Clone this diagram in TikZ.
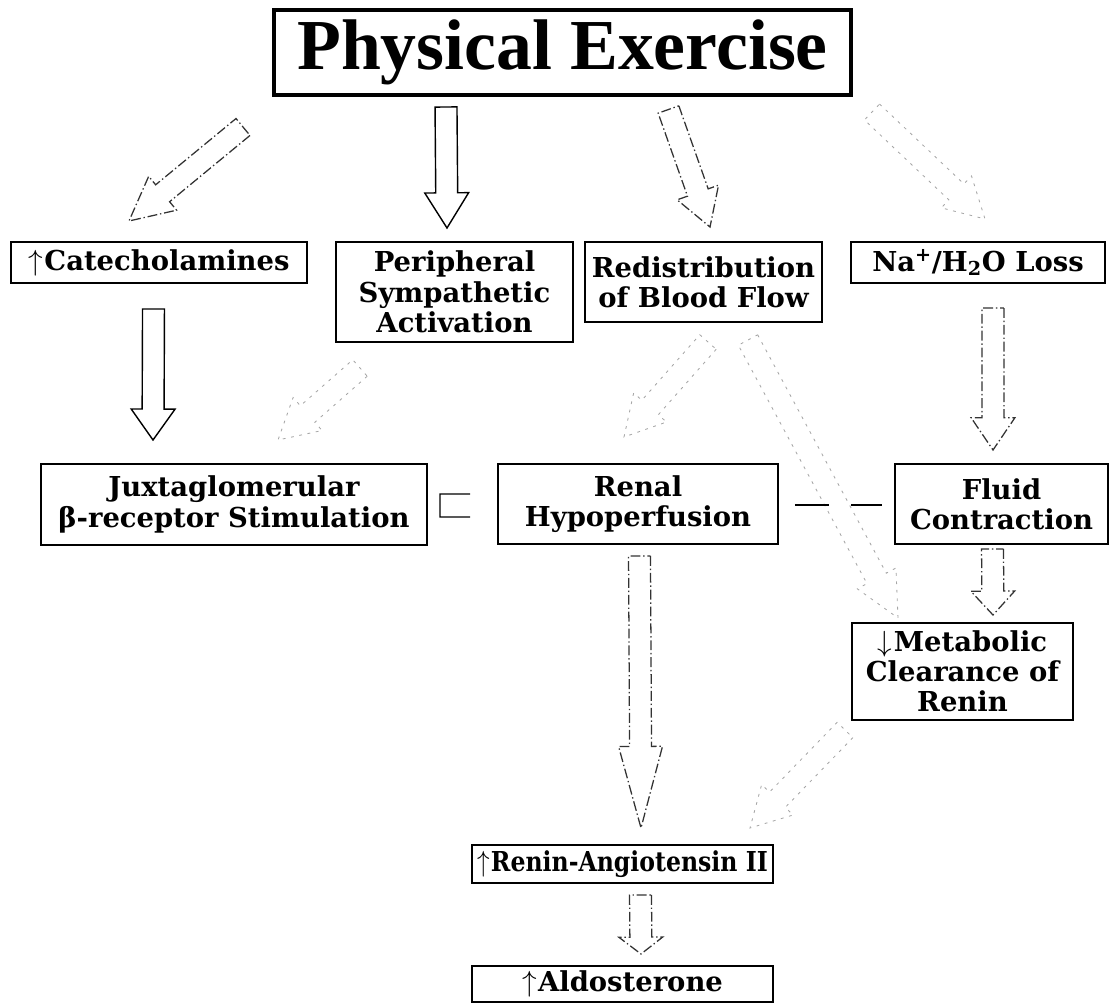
\documentclass[tikz,border=0pt]{standalone}
\usepackage{fontspec}
\setmainfont{DejaVu Serif}
\newfontfamily\titlefont{Liberation Serif}
\usetikzlibrary{calc}

\newcommand{\shafthw}{7.8pt}
\newcommand{\headhw}{15.6pt}
\newcommand{\incr}{$\mathord{\uparrow}$\kern1pt}
\newcommand{\decr}{$\mathord{\downarrow}$\kern1pt}
\newcommand{\blockarrow}[4][]{%
  \coordinate (neck) at ($(#3)!#4!(#2)$);
  \draw[#1] ($(#2)!\shafthw!90:(#3)$) -- ($(neck)!\shafthw!90:(#3)$)
    -- ($(neck)!\headhw!90:(#3)$) -- (#3)
    -- ($(neck)!\headhw!-90:(#3)$) -- ($(neck)!\shafthw!-90:(#3)$)
    -- ($(#2)!\shafthw!-90:(#3)$) -- cycle;}

\begin{document}
\begin{tikzpicture}[
    x=0.025cm, y=-0.025cm,
    stage/.style={draw=black, line width=1.3pt, inner sep=0pt, align=center,
      font=\bfseries\fontsize{19.5}{21.5}\selectfont},
    strong/.style={draw=black, line width=1pt},
    broken/.style={draw=black!80, line width=0.9pt, dash pattern=on 7pt off 2pt on 1pt off 2pt},
    faint/.style={draw=black!35, line width=0.6pt, dash pattern=on 2pt off 4pt}
]
    \useasboundingbox (0,0) rectangle (1117,1004);

    \node[stage, line width=3pt, minimum width=14.425cm, minimum height=2.125cm,
      font=\titlefont\bfseries\fontsize{51}{56}\selectfont] (phys) at (562.5,52.5) {Physical Exercise};

    \node[stage, minimum width=7.4cm, minimum height=1.025cm] (cat) at (159,262.5) {\incr Catecholamines};
    \node[stage, minimum width=5.925cm, minimum height=2.5cm] (per) at (454.5,292) {Peripheral\\Sympathetic\\Activation};
    \node[stage, minimum width=5.925cm, minimum height=2.0cm] (red) at (703.5,282) {Redistribution\\of Blood Flow};
    \node[stage, minimum width=6.35cm, minimum height=1.025cm] (na) at (978,262.5) {Na\textsuperscript{+}/H\textsubscript{2}O Loss};

    \node[stage, minimum width=9.65cm, minimum height=2.025cm] (jux) at (234,504.5) {Juxtaglomerular\\β-receptor Stimulation};
    \node[stage, minimum width=7.0cm, minimum height=2.0cm] (ren) at (638,504) {Renal\\Hypoperfusion};
    \node[stage, minimum width=5.325cm, minimum height=2.0cm] (flu) at (1001.5,504) {Fluid\\Contraction};
    \node[stage, minimum width=5.525cm, minimum height=2.425cm] (met) at (962.5,671.5) {\decr Metabolic\\Clearance of\\Renin};

    \node[stage, minimum width=7.525cm, minimum height=0.95cm] (ang) at (622.5,864) {\scalebox{0.86}[1]{\incr Renin-Angiotensin II}};
    \node[stage, minimum width=7.525cm, minimum height=0.9cm] (ald) at (622.5,984) {\incr Aldosterone};

    \coordinate (phys-cat) at (243,127);    \coordinate (cat-in) at (129,221);
    \coordinate (phys-per) at (446,107);    \coordinate (per-in) at (447,228);
    \coordinate (phys-red) at (668.5,109.5);\coordinate (red-in) at (710,227);
    \coordinate (phys-na) at (872,112);     \coordinate (na-in) at (985,219);
    \coordinate (cat-out) at (153.5,309);   \coordinate (jux-in1) at (153,440);
    \coordinate (per-out) at (360,368);     \coordinate (jux-in2) at (278,440);
    \coordinate (red-out1) at (708,342);    \coordinate (ren-in) at (624,437);
    \coordinate (red-out2) at (748,340);    \coordinate (met-in1) at (898,618);
    \coordinate (na-out) at (993,308);      \coordinate (flu-in) at (993,450);
    \coordinate (flu-out) at (992.5,549);   \coordinate (met-in2) at (993,615);
    \coordinate (ren-out) at (639.5,556);   \coordinate (ang-in1) at (641,828);
    \coordinate (met-out) at (845,730);     \coordinate (ang-in2) at (750,828);
    \coordinate (ang-out) at (640.5,895);   \coordinate (ald-in) at (641,954);

    \blockarrow[broken]{phys-cat}{cat-in}{31pt}
    \blockarrow[strong]{phys-per}{per-in}{25pt}
    \blockarrow[broken]{phys-red}{red-in}{26pt}
    \blockarrow[faint]{phys-na}{na-in}{28pt}
    \blockarrow[strong]{cat-out}{jux-in1}{22pt}
    \blockarrow[faint]{per-out}{jux-in2}{28pt}
    \blockarrow[faint]{red-out1}{ren-in}{28pt}
    \blockarrow[faint]{red-out2}{met-in1}{32pt}
    \blockarrow[broken]{na-out}{flu-in}{23pt}
    \blockarrow[broken]{flu-out}{met-in2}{17pt}
    \blockarrow[broken]{ren-out}{ang-in1}{58pt}
    \blockarrow[faint]{met-out}{ang-in2}{28pt}
    \blockarrow[broken]{ang-out}{ald-in}{12pt}

    \draw[line width=1pt] ($(ren.west)+(-27,-10)$) -- ($(jux.east)+(12,-10.5)$)
      -- ($(jux.east)+(12,12.5)$) -- ($(ren.west)+(-27,13)$);
    \draw[line width=1.4pt, dash pattern=on 24pt off 16pt] ($(ren.east)+(16,1)$) -- ($(flu.west)+(-12,1)$);
\end{tikzpicture}
\end{document}
